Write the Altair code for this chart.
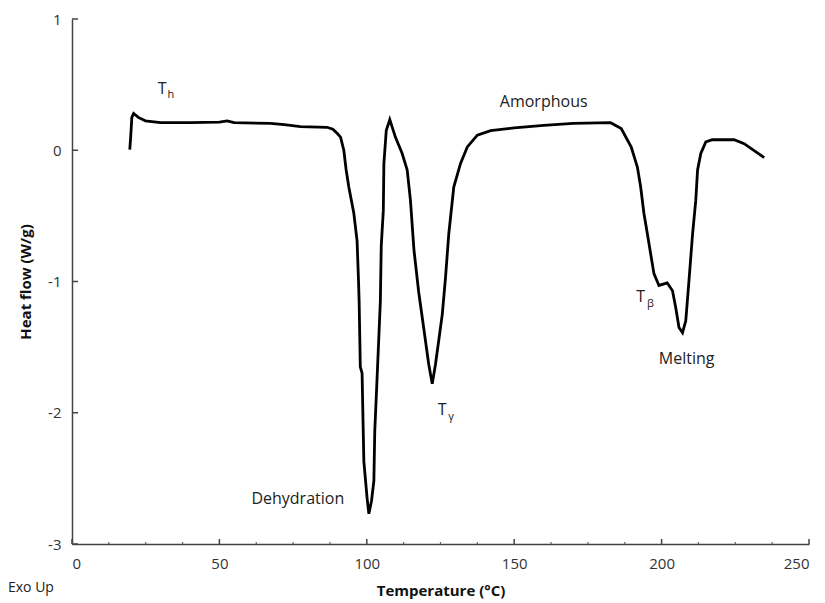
import altair as alt
import pandas as pd

# DSC curve
temp = [19.6, 19.9, 20.3, 20.9, 22.5, 24.9, 30, 40, 50, 52.6, 55, 67.3, 72, 77.5, 86.5, 88.5, 90, 91.1, 92.2,
        93.0, 93.9, 95.6, 96.7, 97.2, 97.4, 97.8, 98.4, 99.0, 100.1, 100.7, 101.6, 102.4, 102.7, 103.5, 104.6,
        104.9, 105.6, 105.8, 106.6, 107.8, 109.7, 112, 113.7, 114.8, 116, 117.6, 119.4, 121, 122.2, 123.3,
        124.4, 125.6, 126.7, 127.8, 129.5, 131.8, 134.1, 137.5, 142, 150, 160, 170, 182.7, 186.3, 189.7,
        191.8, 192.9, 194, 195.2, 196.3, 197.4, 199.1, 201.9, 203.7, 204.8, 205.9, 207.1, 208.2, 209.3,
        210.5, 211.6, 212.2, 213.3, 215, 217.2, 224.6, 228, 234.8]
heat = [0.005, 0.10, 0.25, 0.28, 0.25, 0.224, 0.21, 0.21, 0.215, 0.224, 0.21, 0.204, 0.195, 0.18, 0.175, 0.16,
        0.127, 0.10, 0.0, -0.15, -0.28, -0.48, -0.69, -1.0, -1.15, -1.65, -1.70, -2.37, -2.65, -2.77, -2.67,
        -2.52, -2.14, -1.73, -1.15, -0.73, -0.46, -0.10, 0.15, 0.234, 0.10, -0.025, -0.15, -0.38, -0.76,
        -1.08, -1.37, -1.63, -1.78, -1.63, -1.45, -1.25, -0.97, -0.64, -0.28, -0.10, 0.025, 0.115, 0.15,
        0.17, 0.19, 0.205, 0.21, 0.165, 0.025, -0.13, -0.28, -0.48, -0.64, -0.79, -0.94, -1.03, -1.01,
        -1.07, -1.2, -1.35, -1.39, -1.30, -0.99, -0.64, -0.38, -0.15, -0.025, 0.063, 0.08, 0.08, 0.05, -0.056]

# annotations
ann_text = ["T", "Amorphous", "Dehydration", "T", "T", "Melting"]
ann_x = [30.6, 160.0, 76.6, 125.6, 192.9, 208.5]
ann_y = [0.47, 0.37, -2.66, -1.98, -1.12, -1.59]
sub_text = ["h", "γ", "β"]
sub_x = [33.5, 128.6, 196.2]
sub_y = [0.42, -2.03, -1.17]

x_major = [0, 50, 100, 150, 200, 250]
x_minor = [12.5, 25, 37.5, 62.5, 75, 87.5, 112.5, 125, 137.5, 162.5, 175, 187.5, 212.5, 225, 237.5]
y_major = [-3, -2, -1, 0, 1]

FONT = "Open Sans"
curve = pd.DataFrame({"T": temp, "H": heat})
ann = pd.DataFrame({"text": ann_text, "T": ann_x, "H": ann_y})
subs = pd.DataFrame({"text": sub_text, "T": sub_x, "H": sub_y})

xs = alt.Scale(domain=[0, 250], nice=False)
ys = alt.Scale(domain=[-3, 1], nice=False)

line = alt.Chart(curve).mark_line(color="black", strokeWidth=2.8, interpolate="linear").encode(
    x=alt.X("T:Q", scale=xs, title="Temperature (°C)",
            axis=alt.Axis(values=x_major, ticks=False, tickSize=0, grid=False, labelPadding=12,
                          labelExpr="'' + datum.value", titlePadding=12)),
    y=alt.Y("H:Q", scale=ys, title="Heat flow (W/g)",
            axis=alt.Axis(values=y_major, ticks=False, tickSize=0, grid=False, labelPadding=11,
                          labelExpr="'' + datum.value", titlePadding=14)),
)

text = alt.Chart(ann).mark_text(fontSize=16, font=FONT, color="#222").encode(
    x="T:Q", y="H:Q", text="text:N")
subt = alt.Chart(subs).mark_text(fontSize=11, font=FONT, color="#222").encode(
    x="T:Q", y="H:Q", text="text:N")

xt = alt.Chart(pd.DataFrame({"v": x_major})).mark_rule(color="#444", strokeWidth=1.5).encode(
    x="v:Q", y=alt.value(525), y2=alt.value(520))
xm = alt.Chart(pd.DataFrame({"v": x_minor})).mark_rule(color="#666", strokeWidth=1.2).encode(
    x="v:Q", y=alt.value(525), y2=alt.value(523))
yt = alt.Chart(pd.DataFrame({"v": y_major})).mark_rule(color="#444", strokeWidth=1.5).encode(
    y="v:Q", x=alt.value(0), x2=alt.value(6))

exo = alt.Chart(pd.DataFrame({"t": ["Exo Up"]})).mark_text(
    fontSize=14, font=FONT, color="#222", align="left", baseline="middle").encode(
    x=alt.value(-64), y=alt.value(569), text="t:N")

chart = alt.layer(line, xt, xm, yt, text, subt, exo).properties(
    width=737, height=525,
    autosize=alt.AutoSizeParams(type="none"),
    padding={"left": 64, "top": 11, "right": 8, "bottom": 62},
).configure_view(stroke=None).configure_axis(
    domainColor="#444", domainWidth=1.5, labelFont=FONT, labelFontSize=15, labelColor="#333",
    titleFont=FONT, titleFontSize=15, titleFontWeight="bold", titleColor="#111",
)

chart.save("out.html", embed_options={"renderer": "svg", "actions": False})
